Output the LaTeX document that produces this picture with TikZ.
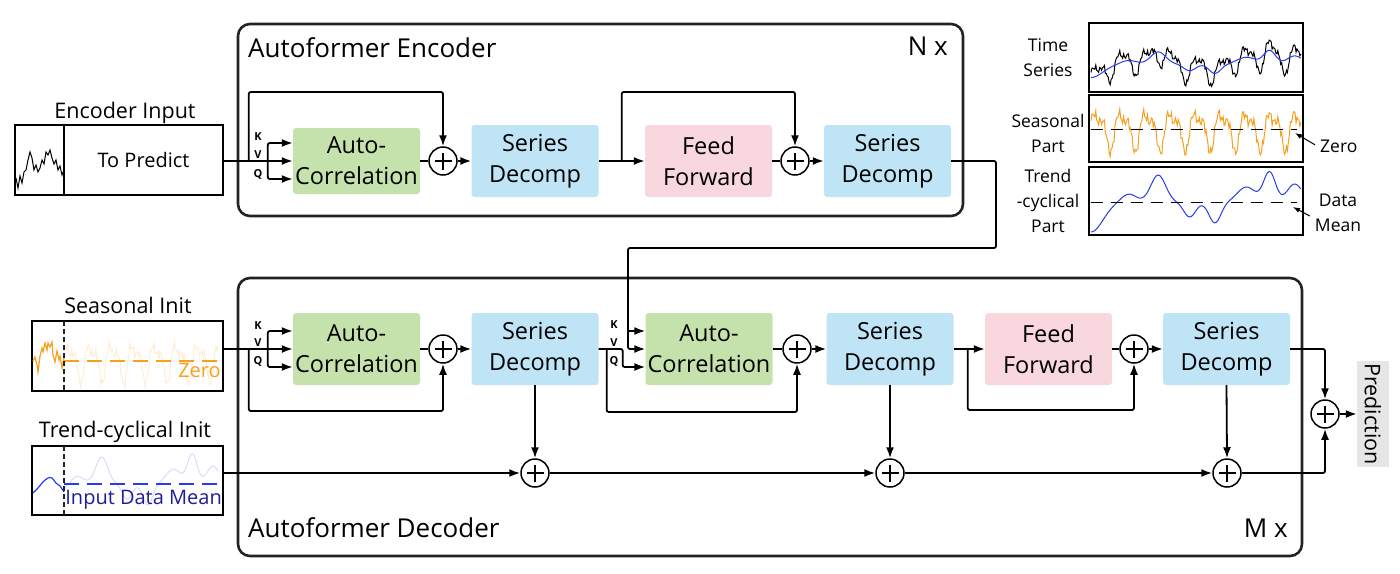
\documentclass[tikz,border=0pt]{standalone}
\usepackage{fontspec}
\setmainfont{Open Sans}
\usetikzlibrary{arrows.meta,positioning}

\definecolor{acgreen}{RGB}{198,226,172}
\definecolor{sdblue}{RGB}{190,228,246}
\definecolor{ffpink}{RGB}{248,216,222}
\definecolor{predgray}{RGB}{230,230,230}
\definecolor{framegray}{RGB}{35,35,35}
\definecolor{seasorange}{RGB}{246,160,30}
\definecolor{trendblue}{RGB}{40,60,235}
\definecolor{meanblue}{RGB}{30,30,150}

\tikzset{
  block/.style={rounded corners=3pt, minimum width=127pt, minimum height=72pt, inner sep=0pt, align=center, font=\fontsize{23.5}{31}\selectfont},
  autocorr/.style={block, fill=acgreen},
  decomp/.style={block, fill=sdblue},
  feedfwd/.style={block, fill=ffpink},
  adder/.style={circle, draw, line width=1.5pt, minimum size=28pt, inner sep=0pt,
    path picture={\draw[line width=1.3pt] ([xshift=-8.5pt]path picture bounding box.center) -- ([xshift=8.5pt]path picture bounding box.center)
      ([yshift=-8.5pt]path picture bounding box.center) -- ([yshift=8.5pt]path picture bounding box.center);}},
  stack/.style={draw=framegray, line width=2.6pt, rounded corners=12pt},
  wire/.style={line width=1.8pt, rounded corners=2pt},
  arr/.style={wire, -{Latex[length=11pt,width=8pt]}},
  kvq/.style={font=\fontsize{11}{11}\selectfont\bfseries, inner sep=0pt},
  inbox/.style={draw, line width=1.4pt, inner sep=0pt},
  lbl/.style={font=\fontsize{21.5}{26}\selectfont, inner sep=0pt},
  title/.style={font=\fontsize{26}{30}\selectfont, inner sep=0pt},
  small/.style={font=\fontsize{17.5}{25}\selectfont, align=center, inner sep=0pt},
  plotbox/.style={draw, line width=1.4pt, inner sep=0pt, minimum width=214pt},
  pointer/.style={line width=1pt, -{Latex[length=7pt,width=5pt]}},
}

\begin{document}
\begin{tikzpicture}[x=1pt, y=-1pt,
  declare function={
    gb(\xa)=exp(-min(9,(\xa)*(\xa)));
    trend(\xb)=-30*gb(\xb/0.08)+8*gb((\xb-0.18)/0.05)+27*gb((\xb-0.32)/0.05)-15*gb((\xb-0.47)/0.04)-21*gb((\xb-0.59)/0.04)+15*gb((\xb-0.74)/0.06)+30*gb((\xb-0.85)/0.04)+18*gb((\xb-0.97)/0.05);
    seas(\xb)=14*sin(3024*\xb)+7*sin(6048*\xb+60)+3*sin(360*frac(53*\xb))+2*sin(360*frac(97*\xb)+30);
  }]
    \useasboundingbox (0,0) rectangle (1400,573);

    % stacks
    \node[stack, minimum width=725pt, minimum height=192pt] (encoder) at (600.5,120) {};
    \node[stack, minimum width=1064pt, minimum height=278pt] (decoder) at (770,417) {};
    \node[title, anchor=base west] (enctitle) at (248,57) {Autoformer Encoder};
    \node[title, anchor=base east] (enctimes) at (948,55) {N x};
    \node[title, anchor=base west] (dectitle) at (248,537) {Autoformer Decoder};
    \node[title, anchor=base east] (dectimes) at (1288,537) {M x};

    % encoder input
    \node[lbl, anchor=base] (encinlbl) at (125,118) {Encoder Input};
    \node[inbox, minimum width=208pt, minimum height=70pt] (encin) at (119,160) {};
    \draw[line width=1.4pt] (64,125) -- (64,195);
    \node[font=\fontsize{20}{24}\selectfont, inner sep=0pt] (topredict) at (143.5,160) {To Predict};
    \draw[line width=1pt] plot coordinates {(16,178) (18,188) (20,176) (22,183) (24,172) (26,170) (28,160) (30,152) (32,158) (34,170) (36,165) (38,172) (40,168) (42,160) (44,164) (46,152) (48,155) (50,150) (52,158) (54,164) (56,160) (58,170) (60,166) (62,175) (63,172)};

    % seasonal init
    \node[lbl, anchor=base] (seasinlbl) at (128,313) {Seasonal Init};
    \node[inbox, minimum width=191pt, minimum height=70pt] (seasin) at (127.5,356) {};
    \draw[seasorange, opacity=0.18, line width=1pt] plot[domain=0:0.85, samples=160] ({64+181.2*\x},{361-1.1*seas(\x)});
    \draw[seasorange, line width=1.4pt, dash pattern=on 15pt off 8pt] (64,361) -- (218,361);
    \draw[seasorange, line width=1.2pt] plot coordinates {(33,361) (35,357) (37,365) (38,372) (40,356) (42,348) (43,352) (45,343) (47,350) (48,343) (50,347) (52,342) (53,355) (55,362) (57,351) (59,360) (60,356) (62,368) (64,358)};
    \draw[framegray, line width=1.2pt, dash pattern=on 5pt off 3pt] (64,321) -- (64,391);
    \node[font=\fontsize{20}{24}\selectfont, inner sep=0pt, text=seasorange, anchor=base east] (zeroinit) at (221,377) {Zero};

    % trend-cyclical init
    \node[lbl, anchor=base] (trendinlbl) at (125,437) {Trend-cyclical Init};
    \node[inbox, minimum width=191pt, minimum height=69pt] (trendin) at (127.5,480.5) {};
    \draw[trendblue, opacity=0.18, line width=1pt] plot[domain=0.1:1, samples=120, smooth] ({64+171.1*(\x-0.1)},{484-trend(\x)});
    \draw[trendblue, line width=1.4pt, dash pattern=on 15pt off 8pt] (64,484) -- (218,484);
    \draw[trendblue, line width=1.2pt] plot[smooth] coordinates {(33,493) (38,488) (43,482) (48,478) (52,478) (56,483) (60,486) (64,492)};
    \draw[framegray, line width=1.2pt, dash pattern=on 5pt off 3pt] (64,446) -- (64,515);
    \node[font=\fontsize{20}{24}\selectfont, inner sep=0pt, text=meanblue, anchor=base east] (meaninit) at (222,504) {Input Data Mean};

    % encoder blocks
    \node[autocorr, minimum height=66pt] (encac) at (356.5,161) {Auto-\\Correlation};
    \node[adder] (encadd1) at (443,161) {};
    \node[decomp] (encsd1) at (535,161) {Series\\Decomp};
    \node[feedfwd] (encff) at (708.5,161) {Feed\\Forward};
    \node[adder] (encadd2) at (795,161) {};
    \node[decomp] (encsd2) at (887.5,161) {Series\\Decomp};

    \node[kvq] (enck) at (258,137) {K};
    \node[kvq] (encv) at (258,155) {V};
    \node[kvq] (encq) at (258,174) {Q};

    \draw[arr] (encin.east |- encac.west) -- (encac.west);
    \draw[arr] ([xshift=-25pt]encac.west) |- ([yshift=18pt]encac.west);
    \draw[arr] ([xshift=-25pt]encac.west) |- ([yshift=-18pt]encac.west);
    \draw[arr] ([xshift=-44pt]encac.west) -- ++(0,-69) -| (encadd1.north);
    \draw[wire] (encac.east) -- (encadd1.west);
    \draw[arr] (encadd1.east) -- (encsd1.west);
    \draw[arr] (encsd1.east) -- (encff.west);
    \draw[arr] ([xshift=23pt]encsd1.east) -- ++(0,-69) -| (encadd2.north);
    \draw[wire] (encff.east) -- (encadd2.west);
    \draw[arr] (encadd2.east) -- (encsd2.west);

    % decoder blocks
    \node[autocorr] (decac1) at (356.5,349) {Auto-\\Correlation};
    \node[adder] (decadd1) at (443,349) {};
    \node[decomp] (decsd1) at (535,349) {Series\\Decomp};
    \node[autocorr] (decac2) at (709,349) {Auto-\\Correlation};
    \node[adder] (decadd2) at (797,349) {};
    \node[decomp] (decsd2) at (890,349) {Series\\Decomp};
    \node[feedfwd] (decff) at (1048.5,349) {Feed\\Forward};
    \node[adder] (decadd3) at (1134,349) {};
    \node[decomp] (decsd3) at (1226.5,349) {Series\\Decomp};

    \node[adder] (tadd1) at (535,473) {};
    \node[adder] (tadd2) at (890,473) {};
    \node[adder] (tadd3) at (1227,473) {};
    \node[adder] (fadd) at (1325,414) {};
    \node[fill=predgray, rotate=-90, minimum width=106pt, minimum height=32pt, inner sep=0pt, font=\fontsize{21.5}{26}\selectfont] (pred) at (1373,414) {Prediction};

    \node[kvq] (deck1) at (258,326) {K};
    \node[kvq] (decv1) at (258,343) {V};
    \node[kvq] (decq1) at (258,361) {Q};
    \node[kvq] (deck2) at (614,325) {K};
    \node[kvq] (decv2) at (614,343) {V};
    \node[kvq] (decq2) at (614,361) {Q};

    % seasonal path
    \draw[arr] (seasin.east |- decac1.west) -- (decac1.west);
    \draw[arr] ([xshift=-25pt]decac1.west) |- ([yshift=18pt]decac1.west);
    \draw[arr] ([xshift=-25pt]decac1.west) |- ([yshift=-18pt]decac1.west);
    \draw[arr] ([xshift=-44pt]decac1.west) -- ++(0,62) -| (decadd1.south);
    \draw[wire] (decac1.east) -- (decadd1.west);
    \draw[arr] (decadd1.east) -- (decsd1.west);

    % encoder output into second auto-correlation
    \coordinate (kvtap) at (628,331);
    \draw[wire] (encsd2.east) -| (996,248) -| (kvtap);
    \draw[arr] (kvtap) -- (kvtap -| decac2.west);
    \draw[arr] (kvtap) |- (decac2.west);
    \draw[arr] (decsd1.east) -- ++(24,0) |- ([yshift=-18pt]decac2.west);
    \draw[arr] ([xshift=8pt]decsd1.east) -- ++(0,63) -| (decadd2.south);
    \draw[wire] (decac2.east) -- (decadd2.west);
    \draw[arr] (decadd2.east) -- (decsd2.west);
    \draw[arr] (decsd2.east) -- (decff.west);
    \draw[arr] ([xshift=14pt]decsd2.east) -- ++(0,61) -| (decadd3.south);
    \draw[wire] (decff.east) -- (decadd3.west);
    \draw[arr] (decadd3.east) -- (decsd3.west);

    % trend path
    \draw[arr] (trendin.east |- tadd1.west) -- (tadd1.west);
    \draw[arr] (decsd1.south) -- (tadd1.north);
    \draw[arr] (tadd1.east) -- (tadd2.west);
    \draw[arr] (decsd2.south) -- (tadd2.north);
    \draw[arr] (tadd2.east) -- (tadd3.west);
    \draw[arr] (decsd3.south) -- (tadd3.north);
    \draw[arr] (tadd3.east) -| (fadd.south);
    \draw[arr] (decsd3.east) -| (fadd.north);
    \draw[arr] (fadd.east) -- (pred);

    % decomposition legend
    \node[plotbox, minimum height=69pt] (tsbox) at (1196,57.5) {};
    \node[plotbox, minimum height=67pt] (seasbox) at (1196,128.5) {};
    \node[plotbox, minimum height=68pt] (trendbox) at (1196,201) {};
    \node[small] (tslbl) at (1048,58) {Time\\Series};
    \node[small] (seaslbl) at (1048,133) {Seasonal\\Part};
    \node[small] (trendlbl) at (1048,201) {Trend\\-cyclical\\Part};

    \begin{scope}
      \clip (tsbox.north west) rectangle (tsbox.south east);
      \draw[line width=1pt] plot[domain=0:1, samples=220] ({1091+210*\x},{64-0.45*trend(\x)-0.72*seas(\x)});
      \draw[trendblue, line width=1pt] plot[domain=0:1, samples=120, smooth] ({1091+210*\x},{64-0.45*trend(\x)});
    \end{scope}
    \draw[seasorange, line width=1pt] plot[domain=0:1, samples=220] ({1091+210*\x},{129-1.15*seas(\x)});
    \draw[line width=1pt, dash pattern=on 12pt off 8pt] (1091,129) -- (1297,129);
    \draw[trendblue, line width=1pt] plot[domain=0:1, samples=120, smooth] ({1091+210*\x},{202-trend(\x)});
    \draw[line width=1pt, dash pattern=on 12pt off 8pt] (1091,202) -- (1297,202);

    \node[small, anchor=base west] (zerolbl) at (1320,152) {Zero};
    \node[small] (meanlbl) at (1338,213) {Data\\Mean};
    \coordinate (zerotip) at (1295,133);
    \coordinate (meantip) at (1293,207);
    \draw[pointer] ([xshift=-5pt,yshift=1pt]zerolbl.west) -- (zerotip);
    \draw[pointer] ([xshift=-5pt,yshift=-3pt]meanlbl.west) -- (meantip);
\end{tikzpicture}
\end{document}
